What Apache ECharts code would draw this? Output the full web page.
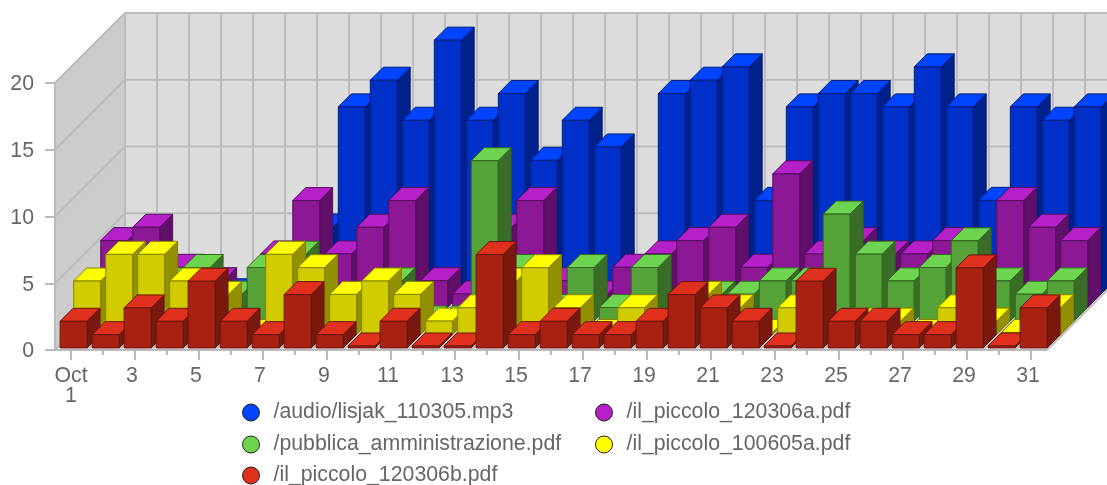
<!DOCTYPE html>
<html>
<head>
<meta charset="utf-8">
<style>
  html, body { margin: 0; padding: 0; background: #fff; }
  #chart { width: 1107px; height: 485px; }
</style>
<script src="https://cdn.jsdelivr.net/npm/echarts@6/dist/echarts.min.js"></script>
</head>
<body>
<div id="chart"></div>
<script>
const days = ['Oct\n1','2','3','4','5','6','7','8','9','10','11','12','13','14','15','16','17','18','19','20','21','22','23','24','25','26','27','28','29','30','31'];
const yTicks = [0, 5, 10, 15, 20];

const audioLisjak = [0,0,0,0,0,0,5,14,16,13,19,13,15,10,13,11,0,15,16,17,7,14,15,15,14,17,14,7,14,13,14];
const piccolo120306a = [5,6,3,2,0,4,8,4,6,8,2,1,6,8,2,1,3,4,5,6,3,10,4,5,4,4,5,3,8,6,5];
const pubblica = [0,0,3,4,2,4,5,0,0,3,0,0,12,4,1,4,1,4,0,2,2,3,3,8,5,3,4,6,3,2,3];
const piccolo100605a = [4,6,6,4,3,0,6,5,3,4,3,1,2,4,5,2,0,2,0,3,2,0,2,0,1,1,0,2,1,0,2];
const piccolo120306b = [2,1,3,2,5,2,1,4,1,0,2,0,0,7,1,2,1,1,2,4,3,2,0,5,2,2,1,1,6,0,3];

// back row first, front row last
const rows = [
    { name: '/audio/lisjak_110305.mp3', data: audioLisjak, top: '#0044ff', front: '#0030c8', side: '#00208c', edge: '#001c78' },
    { name: '/il_piccolo_120306a.pdf', data: piccolo120306a, top: '#b520c8', front: '#8c1896', side: '#601068', edge: '#560e5e' },
    { name: '/pubblica_amministrazione.pdf', data: pubblica, top: '#6cd44e', front: '#54a238', side: '#3a6e26', edge: '#366424' },
    { name: '/il_piccolo_100605a.pdf', data: piccolo100605a, top: '#ffff00', front: '#d0cc00', side: '#929000', edge: '#858300' },
    { name: '/il_piccolo_120306b.pdf', data: piccolo120306b, top: '#e0301e', front: '#a82214', side: '#78180e', edge: '#6c150c' }
];

const wallDepth = 70;   // offset of the back wall, px
const rowStep = 13.55;  // offset from one row to the next, px
const barDepth = 13;
const lineColor = '#bbbbbb';
const textColor = '#666666';
const fontName = '"Liberation Sans", Arial, sans-serif';
const fontSize = 21.3;

function line(x1, y1, x2, y2) {
    return { type: 'line', shape: { x1, y1, x2, y2 }, style: { stroke: lineColor, lineWidth: 2 }, silent: true };
}
function poly(points, fill, stroke) {
    return { type: 'polygon', shape: { points }, style: { fill, stroke: stroke || null, lineWidth: stroke ? 1 : 0 }, silent: true };
}

// walls, floor and grid, positioned from the axes
function renderFrame(params, api) {
    const step = api.size([1, 0])[0];
    const x0 = api.coord([0, 0])[0] - step / 2;
    const x1 = api.coord([days.length - 1, 0])[0] + step / 2;
    const y0 = api.coord([0, 0])[1];
    const yTop = api.coord([0, yTicks[yTicks.length - 1]])[1];
    const d = wallDepth;
    const children = [
        poly([[x0 + d, yTop - d], [x1 + d, yTop - d], [x1 + d, y0 - d], [x0 + d, y0 - d]], '#dcdcdc'),
        poly([[x0, yTop], [x0 + d, yTop - d], [x0 + d, y0 - d], [x0, y0]], '#cccccc'),
        poly([[x0, y0], [x0 + d, y0 - d], [x1 + d, y0 - d], [x1, y0]], '#ffffff')
    ];
    for (let i = 0; i <= days.length; i++) {
        const x = x0 + i * step;
        children.push(line(x + d, yTop - d, x + d, y0 - d));
        children.push(line(x, y0, x + d, y0 - d));
    }
    yTicks.forEach(function (v) {
        const y = api.coord([0, v])[1];
        children.push(line(x0 + d, y - d, x1 + d, y - d));
        children.push(line(x0, y, x0 + d, y - d));
    });
    children.push(line(x0, yTop, x0, y0));
    children.push(line(x0, y0, x1, y0));
    return { type: 'group', children };
}

function renderBar(rowIndex, params, api) {
    const row = rows[rowIndex];
    const step = api.size([1, 0])[0];
    const base = api.coord([api.value(0), 0]);
    const top = api.coord([api.value(0), api.value(1)]);
    const shift = (rows.length - 1 - rowIndex) * rowStep;
    const left = base[0] - step * 0.34 + shift;
    const right = left + step * 0.84;
    const bottom = base[1] - 2 - shift;
    const y = Math.min(top[1] - 2 - shift, bottom - 2); // flat bars still show a sliver
    return {
        type: 'group',
        children: [
            poly([[right, bottom], [right + barDepth, bottom - barDepth], [right + barDepth, y - barDepth], [right, y]], row.side, row.edge),
            poly([[left, y], [left + barDepth, y - barDepth], [right + barDepth, y - barDepth], [right, y]], row.top, row.edge),
            poly([[left, bottom], [right, bottom], [right, y], [left, y]], row.front, row.edge)
        ]
    };
}

const legendBase = {
    orient: 'vertical',
    top: 402,
    height: 60,
    padding: 0,
    itemWidth: 17,
    itemHeight: 17,
    itemGap: 11,
    icon: 'circle',
    itemStyle: { borderColor: '#222222', borderWidth: 1 },
    textStyle: { color: textColor, fontFamily: fontName, fontSize: fontSize, padding: [0, 0, 0, 9] }
};

const chart = echarts.init(document.getElementById('chart'), null, { renderer: 'canvas' });

const series = [{
    type: 'custom',
    name: 'frame',
    data: [[0, 0]],
    renderItem: renderFrame,
    silent: true,
    z: 1
}];
rows.forEach(function (row, i) {
    series.push({
        type: 'custom',
        name: row.name,
        data: row.data.map(function (v, k) { return [k, v]; }),
        renderItem: function (params, api) { return renderBar(i, params, api); },
        encode: { x: 0, y: 1 },
        itemStyle: { color: row.top },
        silent: true,
        z: 2 + i
    });
});

chart.setOption({
    animation: false,
    backgroundColor: '#ffffff',
    grid: { left: 55, top: 83, width: 992, height: 267 },
    legend: [
        Object.assign({}, legendBase, { left: 242, data: [rows[0].name, rows[2].name] }),
        Object.assign({}, legendBase, { left: 595, data: [rows[1].name, rows[3].name] }),
        Object.assign({}, legendBase, { left: 242, top: 465, height: 20, data: [rows[4].name] })
    ],
    xAxis: [{
        type: 'category',
        data: days,
        axisLine: { show: false },
        axisTick: { show: true, alignWithLabel: true, interval: 1, length: 10, lineStyle: { color: lineColor, width: 2 } },
        axisLabel: {
            interval: 1,
            margin: 16,
            color: textColor,
            fontFamily: fontName,
            fontSize: fontSize,
            lineHeight: 20,
            formatter: function (v) { return v.indexOf('\n') >= 0 ? v : v + ' '; }
        }
    }, {
        type: 'category',
        position: 'bottom',
        data: days,
        axisLine: { show: false },
        axisTick: { show: true, alignWithLabel: true, interval: 0, length: 5, lineStyle: { color: lineColor, width: 2 } },
        axisLabel: { show: false }
    }],
    yAxis: {
        type: 'value',
        min: 0,
        max: 20,
        interval: 5,
        axisLine: { show: true, lineStyle: { color: lineColor, width: 2 } },
        axisTick: { show: true, length: 10, lineStyle: { color: lineColor, width: 2 } },
        splitLine: { show: false },
        // short line box set from the top nudges the digits down to the reference position
        axisLabel: { margin: 21, verticalAlign: 'top', lineHeight: 3, color: textColor, fontFamily: fontName, fontSize: fontSize }
    },
    series
});
</script>
</body>
</html>
